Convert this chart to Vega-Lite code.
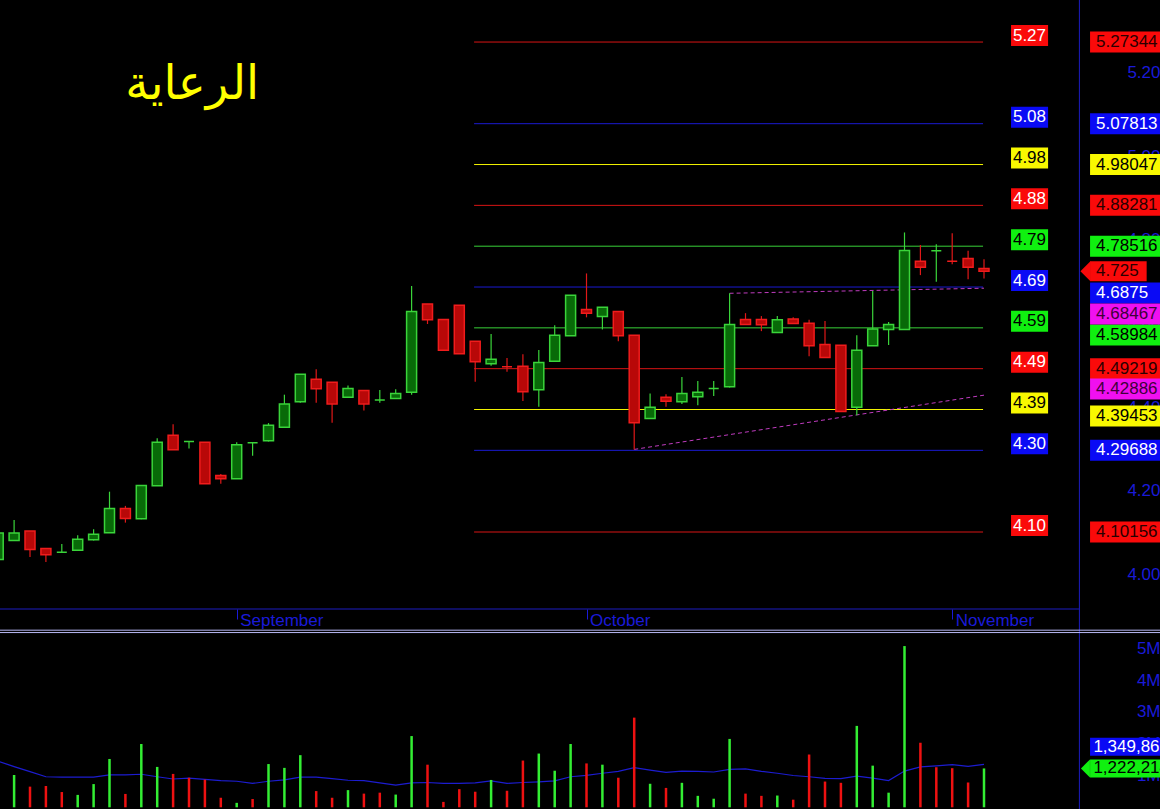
{
  "$schema": "https://vega.github.io/schema/vega-lite/v6.json",
  "width": 1160,
  "height": 809,
  "autosize": "none",
  "padding": 0,
  "background": "#000000",
  "config": {"view": {"stroke": null}, "text": {"font": "Liberation Sans"}, "scale": {"continuousPadding": 0}},
  "datasets": {
    "bars": [
      {"i": -1, "o": 4.036, "h": 4.099, "l": 4.036, "c": 4.099, "d": "up", "ma": 1450000},
      {"i": 0, "o": 4.081, "h": 4.130, "l": 4.081, "c": 4.099, "d": "up", "v": 1016000, "vd": "up", "ma": 1280000},
      {"i": 1, "o": 4.104, "h": 4.104, "l": 4.042, "c": 4.060, "d": "down", "v": 650000, "vd": "down", "ma": 1120000},
      {"i": 2, "o": 4.062, "h": 4.062, "l": 4.030, "c": 4.047, "d": "down", "v": 670000, "vd": "down", "ma": 960000},
      {"i": 3, "o": 4.053, "h": 4.073, "l": 4.053, "c": 4.053, "d": "up", "v": 480000, "vd": "down", "ma": 950000},
      {"i": 4, "o": 4.058, "h": 4.094, "l": 4.058, "c": 4.084, "d": "up", "v": 390000, "vd": "up", "ma": 950000},
      {"i": 5, "o": 4.083, "h": 4.108, "l": 4.081, "c": 4.096, "d": "up", "v": 730000, "vd": "up", "ma": 950000},
      {"i": 6, "o": 4.100, "h": 4.198, "l": 4.100, "c": 4.158, "d": "up", "v": 1520000, "vd": "up", "ma": 1020000},
      {"i": 7, "o": 4.158, "h": 4.164, "l": 4.124, "c": 4.134, "d": "down", "v": 420000, "vd": "down", "ma": 1020000},
      {"i": 8, "o": 4.133, "h": 4.213, "l": 4.132, "c": 4.213, "d": "up", "v": 1990000, "vd": "up", "ma": 1040000},
      {"i": 9, "o": 4.212, "h": 4.326, "l": 4.212, "c": 4.316, "d": "up", "v": 1270000, "vd": "up", "ma": 960000},
      {"i": 10, "o": 4.333, "h": 4.359, "l": 4.298, "c": 4.298, "d": "down", "v": 1050000, "vd": "down", "ma": 890000},
      {"i": 11, "o": 4.318, "h": 4.318, "l": 4.301, "c": 4.318, "d": "up", "v": 930000, "vd": "down", "ma": 920000},
      {"i": 12, "o": 4.316, "h": 4.316, "l": 4.217, "c": 4.217, "d": "down", "v": 870000, "vd": "down", "ma": 880000},
      {"i": 13, "o": 4.237, "h": 4.240, "l": 4.217, "c": 4.229, "d": "down", "v": 300000, "vd": "down", "ma": 840000},
      {"i": 14, "o": 4.229, "h": 4.316, "l": 4.229, "c": 4.310, "d": "up", "v": 140000, "vd": "up", "ma": 820000},
      {"i": 15, "o": 4.315, "h": 4.315, "l": 4.284, "c": 4.315, "d": "up", "v": 260000, "vd": "down", "ma": 750000},
      {"i": 16, "o": 4.320, "h": 4.362, "l": 4.318, "c": 4.357, "d": "up", "v": 1360000, "vd": "up", "ma": 820000},
      {"i": 17, "o": 4.352, "h": 4.430, "l": 4.352, "c": 4.408, "d": "up", "v": 1240000, "vd": "up", "ma": 860000},
      {"i": 18, "o": 4.413, "h": 4.479, "l": 4.411, "c": 4.479, "d": "up", "v": 1640000, "vd": "up", "ma": 950000},
      {"i": 19, "o": 4.467, "h": 4.491, "l": 4.411, "c": 4.444, "d": "down", "v": 510000, "vd": "down", "ma": 950000},
      {"i": 20, "o": 4.460, "h": 4.460, "l": 4.363, "c": 4.408, "d": "down", "v": 300000, "vd": "down", "ma": 900000},
      {"i": 21, "o": 4.424, "h": 4.452, "l": 4.424, "c": 4.445, "d": "up", "v": 540000, "vd": "up", "ma": 850000},
      {"i": 22, "o": 4.440, "h": 4.440, "l": 4.392, "c": 4.408, "d": "down", "v": 430000, "vd": "down", "ma": 840000},
      {"i": 23, "o": 4.417, "h": 4.441, "l": 4.411, "c": 4.417, "d": "up", "v": 460000, "vd": "down", "ma": 770000},
      {"i": 24, "o": 4.421, "h": 4.443, "l": 4.421, "c": 4.433, "d": "up", "v": 400000, "vd": "up", "ma": 700000},
      {"i": 25, "o": 4.436, "h": 4.690, "l": 4.430, "c": 4.629, "d": "up", "v": 2240000, "vd": "up", "ma": 770000},
      {"i": 26, "o": 4.647, "h": 4.647, "l": 4.599, "c": 4.609, "d": "down", "v": 1340000, "vd": "down", "ma": 780000},
      {"i": 27, "o": 4.610, "h": 4.610, "l": 4.536, "c": 4.536, "d": "down", "v": 170000, "vd": "down", "ma": 750000},
      {"i": 28, "o": 4.644, "h": 4.644, "l": 4.528, "c": 4.528, "d": "down", "v": 570000, "vd": "down", "ma": 750000},
      {"i": 29, "o": 4.558, "h": 4.558, "l": 4.461, "c": 4.509, "d": "down", "v": 490000, "vd": "down", "ma": 770000},
      {"i": 30, "o": 4.504, "h": 4.575, "l": 4.499, "c": 4.515, "d": "up", "v": 860000, "vd": "up", "ma": 830000},
      {"i": 31, "o": 4.497, "h": 4.518, "l": 4.485, "c": 4.497, "d": "down", "v": 520000, "vd": "down", "ma": 750000},
      {"i": 32, "o": 4.498, "h": 4.527, "l": 4.415, "c": 4.437, "d": "down", "v": 1470000, "vd": "down", "ma": 780000},
      {"i": 33, "o": 4.442, "h": 4.537, "l": 4.401, "c": 4.507, "d": "up", "v": 1690000, "vd": "up", "ma": 800000},
      {"i": 34, "o": 4.510, "h": 4.596, "l": 4.510, "c": 4.572, "d": "up", "v": 1150000, "vd": "up", "ma": 830000},
      {"i": 35, "o": 4.571, "h": 4.668, "l": 4.571, "c": 4.668, "d": "up", "v": 1990000, "vd": "up", "ma": 960000},
      {"i": 36, "o": 4.634, "h": 4.720, "l": 4.615, "c": 4.625, "d": "down", "v": 1380000, "vd": "down", "ma": 1005000},
      {"i": 37, "o": 4.617, "h": 4.639, "l": 4.586, "c": 4.639, "d": "up", "v": 1340000, "vd": "up", "ma": 1070000},
      {"i": 38, "o": 4.629, "h": 4.629, "l": 4.558, "c": 4.571, "d": "down", "v": 930000, "vd": "down", "ma": 1130000},
      {"i": 39, "o": 4.572, "h": 4.572, "l": 4.299, "c": 4.363, "d": "down", "v": 2820000, "vd": "down", "ma": 1250000},
      {"i": 40, "o": 4.373, "h": 4.433, "l": 4.373, "c": 4.400, "d": "up", "v": 740000, "vd": "up", "ma": 1170000},
      {"i": 41, "o": 4.424, "h": 4.431, "l": 4.401, "c": 4.414, "d": "down", "v": 610000, "vd": "down", "ma": 1100000},
      {"i": 42, "o": 4.413, "h": 4.472, "l": 4.408, "c": 4.433, "d": "up", "v": 770000, "vd": "up", "ma": 1140000},
      {"i": 43, "o": 4.425, "h": 4.463, "l": 4.405, "c": 4.436, "d": "up", "v": 360000, "vd": "up", "ma": 1130000},
      {"i": 44, "o": 4.445, "h": 4.463, "l": 4.427, "c": 4.445, "d": "up", "v": 270000, "vd": "up", "ma": 1110000},
      {"i": 45, "o": 4.449, "h": 4.6725, "l": 4.447, "c": 4.598, "d": "up", "v": 2150000, "vd": "up", "ma": 1190000},
      {"i": 46, "o": 4.610, "h": 4.625, "l": 4.598, "c": 4.598, "d": "down", "v": 430000, "vd": "down", "ma": 1210000},
      {"i": 47, "o": 4.610, "h": 4.618, "l": 4.582, "c": 4.597, "d": "down", "v": 360000, "vd": "down", "ma": 1130000},
      {"i": 48, "o": 4.579, "h": 4.618, "l": 4.579, "c": 4.609, "d": "up", "v": 370000, "vd": "up", "ma": 1070000},
      {"i": 49, "o": 4.611, "h": 4.615, "l": 4.600, "c": 4.600, "d": "down", "v": 240000, "vd": "down", "ma": 1000000},
      {"i": 50, "o": 4.601, "h": 4.609, "l": 4.522, "c": 4.547, "d": "down", "v": 1660000, "vd": "down", "ma": 960000},
      {"i": 51, "o": 4.550, "h": 4.606, "l": 4.519, "c": 4.519, "d": "down", "v": 810000, "vd": "down", "ma": 910000},
      {"i": 52, "o": 4.548, "h": 4.548, "l": 4.390, "c": 4.390, "d": "down", "v": 770000, "vd": "down", "ma": 900000},
      {"i": 53, "o": 4.400, "h": 4.572, "l": 4.381, "c": 4.536, "d": "up", "v": 2560000, "vd": "up", "ma": 980000},
      {"i": 54, "o": 4.547, "h": 4.678, "l": 4.547, "c": 4.587, "d": "up", "v": 1310000, "vd": "up", "ma": 920000},
      {"i": 55, "o": 4.586, "h": 4.604, "l": 4.549, "c": 4.598, "d": "up", "v": 460000, "vd": "up", "ma": 840000},
      {"i": 56, "o": 4.586, "h": 4.818, "l": 4.586, "c": 4.775, "d": "up", "v": 5070000, "vd": "up", "ma": 1140000},
      {"i": 57, "o": 4.749, "h": 4.788, "l": 4.716, "c": 4.735, "d": "down", "v": 2030000, "vd": "down", "ma": 1270000},
      {"i": 58, "o": 4.774, "h": 4.790, "l": 4.700, "c": 4.774, "d": "up", "v": 1260000, "vd": "down", "ma": 1300000},
      {"i": 59, "o": 4.749, "h": 4.816, "l": 4.742, "c": 4.749, "d": "down", "v": 1230000, "vd": "down", "ma": 1340000},
      {"i": 60, "o": 4.756, "h": 4.774, "l": 4.706, "c": 4.735, "d": "down", "v": 780000, "vd": "down", "ma": 1290000},
      {"i": 61, "o": 4.732, "h": 4.754, "l": 4.708, "c": 4.725, "d": "down", "v": 1222214, "vd": "up", "ma": 1349862}
    ],
    "levels": [
      {"v": 5.27344, "at": 5.27344, "role": "ext"},
      {"v": 5.07813, "at": 5.07813, "role": "ult"},
      {"v": 4.98047, "at": 4.98047, "role": "weak"},
      {"v": 4.88281, "at": 4.88281, "role": "pivot"},
      {"v": 4.78516, "at": 4.78516, "role": "range"},
      {"v": 4.6875, "at": 4.6732, "role": "major"},
      {"v": 4.58984, "at": 4.5727, "role": "range"},
      {"v": 4.49219, "at": 4.49219, "role": "pivot"},
      {"v": 4.39453, "at": 4.379, "role": "weak"},
      {"v": 4.29688, "at": 4.29688, "role": "ult"},
      {"v": 4.10156, "at": 4.10156, "role": "ext"}
    ],
    "trend": [
      {"t": "upper", "i": 45, "p": 4.6725},
      {"t": "upper", "i": 61, "p": 4.68467, "at": 4.623},
      {"t": "lower", "i": 39, "p": 4.2991},
      {"t": "lower", "i": 61, "p": 4.42886, "at": 4.4436}
    ]
  },
  "resolve": {"scale": {"y": "independent", "color": "independent", "fill": "independent", "stroke": "independent"}},
  "layer": [
    {
      "resolve": {"scale": {"color": "independent", "fill": "independent", "stroke": "independent"}},
      "layer": [
        {
          "data": {"name": "levels"},
          "mark": {"type": "rule", "strokeWidth": 1},
          "encoding": {
            "x": {"datum": 28.93, "type": "quantitative", "scale": {"domain": [-0.887, 72.069], "nice": false, "zero": false, "padding": 0},
              "axis": {"orient": "bottom", "offset": -200, "values": [14, 36, 59],
                "labelExpr": "datum.value < 20 ? 'September' : datum.value < 40 ? 'October' : 'November'",
                "domain": false, "grid": false, "ticks": true, "tickSize": 10, "tickColor": "#1a1ad8", "tickWidth": 1,
                "labelColor": "#1a1ad8", "labelFont": "Liberation Sans", "labelFontSize": 17, "labelAlign": "left",
                "labelBaseline": "alphabetic", "labelPadding": 6, "labelOffset": 3, "labelFlush": false, "labelOverlap": false, "title": null}},
            "x2": {"datum": 60.94},
            "y": {"field": "v", "type": "quantitative", "scale": {"domain": [3.43905, 5.37399], "nice": false, "zero": false, "padding": 0},
              "axis": {"orient": "right", "values": [4.0, 4.2, 4.4, 4.6, 4.8, 5.0, 5.2], "format": ".2f", "domain": false, "ticks": false, "tickSize": 0, "grid": false,
                "labelAlign": "right", "labelBaseline": "middle", "labelPadding": 0, "labelColor": "#1a1ad8", "labelFont": "Liberation Sans", "labelFontSize": 17, "title": null}},
            "stroke": {"field": "role", "type": "nominal", "legend": null,
              "scale": {"domain": ["ext", "ult", "weak", "pivot", "range", "major"], "range": ["#d81414", "#1a1ad2", "#f2f200", "#d81414", "#38d038", "#1a1ad2"]}}
          }
        },
        {
          "data": {"name": "trend"},
          "mark": {"type": "line", "stroke": "#c03cc0", "strokeWidth": 1, "strokeDash": [4, 3]},
          "encoding": {
            "x": {"field": "i", "type": "quantitative"},
            "y": {"field": "p", "type": "quantitative"},
            "detail": {"field": "t"}
          }
        },
        {
          "data": {"name": "bars"},
          "mark": {"type": "rule", "strokeWidth": 1.2},
          "encoding": {
            "x": {"field": "i", "type": "quantitative"},
            "y": {"field": "l", "type": "quantitative"},
            "y2": {"field": "h"},
            "stroke": {"field": "d", "type": "nominal", "legend": null, "scale": {"domain": ["up", "down"], "range": ["#3ad43a", "#e01818"]}}
          }
        },
        {
          "data": {"name": "bars"},
          "mark": {"type": "bar", "width": 10, "strokeWidth": 1.5},
          "encoding": {
            "x": {"field": "i", "type": "quantitative"},
            "y": {"field": "o", "type": "quantitative"},
            "y2": {"field": "c"},
            "fill": {"field": "d", "type": "nominal", "legend": null, "scale": {"domain": ["up", "down"], "range": ["#086a08", "#b80808"]}},
            "stroke": {"field": "d", "type": "nominal", "legend": null, "scale": {"domain": ["up", "down"], "range": ["#3ad43a", "#f01c1c"]}}
          }
        },
        {
          "data": {"values": [{"name": "الرعاية"}]},
          "mark": {"type": "text", "font": "DejaVu Sans", "fontSize": 47, "fill": "#ffff00", "align": "center", "baseline": "middle"},
          "encoding": {
            "x": {"datum": 11.2, "type": "quantitative"},
            "y": {"datum": 5.1707, "type": "quantitative"},
            "text": {"field": "name"}
          }
        },
        {
          "data": {"name": "levels"},
          "mark": {"type": "rect", "height": 21, "yOffset": -6.5},
          "encoding": {
            "x": {"datum": 62.7, "type": "quantitative"},
            "x2": {"datum": 65.03},
            "y": {"field": "v", "type": "quantitative"},
            "fill": {"field": "role", "type": "nominal", "legend": null,
              "scale": {"domain": ["ext", "ult", "weak", "pivot", "range", "major"], "range": ["#fa0a0a", "#0a0af5", "#f8f800", "#fa0a0a", "#10f010", "#0a0af5"]}}
          }
        },
        {
          "data": {"name": "levels"},
          "mark": {"type": "text", "fontSize": 17, "align": "center", "baseline": "middle", "yOffset": -6.5},
          "encoding": {
            "x": {"datum": 63.86, "type": "quantitative"},
            "y": {"field": "v", "type": "quantitative"},
            "text": {"field": "v", "type": "quantitative", "format": ".2f"},
            "color": {"field": "role", "type": "nominal", "legend": null,
              "scale": {"domain": ["ext", "ult", "weak", "pivot", "range", "major"], "range": ["#ffffff", "#ffffff", "#000000", "#ffffff", "#000000", "#ffffff"]}}
          }
        },
        {
          "data": {"values": [{}]},
          "mark": {"type": "rule", "stroke": "#1c1cc0", "strokeWidth": 1},
          "encoding": {"x": {"datum": 67, "type": "quantitative"}}
        },
        {
          "data": {"values": [{}]},
          "mark": {"type": "rule", "stroke": "#1c1cc0", "strokeWidth": 1},
          "encoding": {
            "x": {"datum": -0.887, "type": "quantitative"},
            "x2": {"datum": 67},
            "y": {"datum": 3.9174, "type": "quantitative"}
          }
        },
        {
          "data": {"name": "levels"},
          "mark": {"type": "rect", "height": 21},
          "encoding": {
            "x": {"datum": 67.67, "type": "quantitative"},
            "x2": {"datum": 72.069},
            "y": {"field": "at", "type": "quantitative"},
            "fill": {"field": "role", "type": "nominal", "legend": null,
              "scale": {"domain": ["ext", "ult", "weak", "pivot", "range", "major"], "range": ["#fa0a0a", "#0a0af5", "#f8f800", "#fa0a0a", "#10f010", "#0a0af5"]}}
          }
        },
        {
          "data": {"name": "levels"},
          "mark": {"type": "text", "fontSize": 17, "align": "left", "baseline": "middle"},
          "encoding": {
            "x": {"datum": 68.05, "type": "quantitative"},
            "y": {"field": "at", "type": "quantitative"},
            "text": {"field": "v", "type": "quantitative", "format": ".6~r"},
            "color": {"field": "role", "type": "nominal", "legend": null,
              "scale": {"domain": ["ext", "ult", "weak", "pivot", "range", "major"], "range": ["#2a0000", "#ffffff", "#000000", "#2a0000", "#000000", "#ffffff"]}}
          }
        },
        {
          "data": {"name": "trend"},
          "transform": [{"filter": "datum.i == 61"}],
          "mark": {"type": "rect", "height": 21, "fill": "#f010f0"},
          "encoding": {
            "x": {"datum": 67.67, "type": "quantitative"},
            "x2": {"datum": 72.069},
            "y": {"field": "at", "type": "quantitative"}
          }
        },
        {
          "data": {"name": "trend"},
          "transform": [{"filter": "datum.i == 61"}],
          "mark": {"type": "text", "fontSize": 17, "align": "left", "baseline": "middle", "fill": "#40003a"},
          "encoding": {
            "x": {"datum": 68.05, "type": "quantitative"},
            "y": {"field": "at", "type": "quantitative"},
            "text": {"field": "p", "type": "quantitative", "format": ".6~r"}
          }
        },
        {
          "data": {"name": "bars"},
          "transform": [{"filter": "datum.i == 61"}],
          "mark": {"type": "rect", "height": 20, "fill": "#fa0a0a"},
          "encoding": {
            "x": {"datum": 67.67, "type": "quantitative"},
            "x2": {"datum": 71.23},
            "y": {"field": "c", "type": "quantitative"}
          }
        },
        {
          "data": {"name": "bars"},
          "transform": [{"filter": "datum.i == 61"}],
          "mark": {"type": "point", "shape": "M0.5,-1L-0.5,0L0.5,1Z", "size": 400, "filled": true, "fill": "#fa0a0a", "opacity": 1, "strokeWidth": 0},
          "encoding": {
            "x": {"datum": 67.38, "type": "quantitative"},
            "y": {"field": "c", "type": "quantitative"}
          }
        },
        {
          "data": {"name": "bars"},
          "transform": [{"filter": "datum.i == 61"}],
          "mark": {"type": "text", "fontSize": 17, "align": "left", "baseline": "middle", "fill": "#2a0000"},
          "encoding": {
            "x": {"datum": 68.05, "type": "quantitative"},
            "y": {"field": "c", "type": "quantitative"},
            "text": {"field": "c", "type": "quantitative", "format": ".5~f"}
          }
        }
      ]
    },
    {
      "data": {"name": "bars"},
      "resolve": {"scale": {"color": "independent", "fill": "independent", "stroke": "independent"}},
      "layer": [
        {
          "mark": {"type": "line", "stroke": "#1c1cd0", "strokeWidth": 1.2, "clip": true},
          "encoding": {
            "x": {"field": "i", "type": "quantitative"},
            "y": {"field": "ma", "type": "quantitative", "scale": {"domain": [-53459, 25387000], "nice": false, "zero": false, "padding": 0},
              "axis": {"orient": "right", "values": [1000000, 2000000, 3000000, 4000000, 5000000], "labelExpr": "(datum.value / 1000000) + 'M'",
                "domain": false, "ticks": false, "tickSize": 0, "grid": false, "labelAlign": "right", "labelBaseline": "middle", "labelPadding": 0,
                "labelColor": "#1a1ad8", "labelFont": "Liberation Sans", "labelFontSize": 17, "title": null}}
          }
        },
        {
          "transform": [{"filter": "isValid(datum.v)"}],
          "mark": {"type": "rule", "strokeWidth": 2.5},
          "encoding": {
            "x": {"field": "i", "type": "quantitative"},
            "y": {"field": "v", "type": "quantitative"},
            "y2": {"datum": 0},
            "stroke": {"field": "vd", "type": "nominal", "legend": null, "scale": {"domain": ["up", "down"], "range": ["#33ee33", "#ee1111"]}}
          }
        },
        {
          "data": {"values": [{}]},
          "mark": {"type": "rule", "stroke": "#b8b8f4", "strokeWidth": 1},
          "encoding": {"y": {"datum": 5570000, "type": "quantitative"}}
        },
        {
          "data": {"values": [{}]},
          "mark": {"type": "rule", "stroke": "#b8b8f4", "strokeWidth": 1},
          "encoding": {"y": {"datum": 5495000, "type": "quantitative"}}
        },
        {
          "transform": [{"filter": "datum.i == 61"}],
          "mark": {"type": "rect", "height": 18, "fill": "#0a0af5", "yOffset": -17.5},
          "encoding": {
            "x": {"datum": 67.67, "type": "quantitative"},
            "x2": {"datum": 72.069},
            "y": {"field": "ma", "type": "quantitative"}
          }
        },
        {
          "transform": [{"filter": "datum.i == 61"}],
          "mark": {"type": "text", "fontSize": 17, "align": "left", "baseline": "middle", "fill": "#ffffff", "yOffset": -17.5},
          "encoding": {
            "x": {"datum": 67.88, "type": "quantitative"},
            "y": {"field": "ma", "type": "quantitative"},
            "text": {"field": "ma", "type": "quantitative", "format": ",.0f"}
          }
        },
        {
          "transform": [{"filter": "datum.i == 61"}],
          "mark": {"type": "rect", "height": 18, "fill": "#10f010"},
          "encoding": {
            "x": {"datum": 67.67, "type": "quantitative"},
            "x2": {"datum": 72.069},
            "y": {"field": "v", "type": "quantitative"}
          }
        },
        {
          "transform": [{"filter": "datum.i == 61"}],
          "mark": {"type": "point", "shape": "M0.5,-1L-0.5,0L0.5,1Z", "size": 324, "filled": true, "fill": "#10f010", "opacity": 1, "strokeWidth": 0},
          "encoding": {
            "x": {"datum": 67.38, "type": "quantitative"},
            "y": {"field": "v", "type": "quantitative"}
          }
        },
        {
          "transform": [{"filter": "datum.i == 61"}],
          "mark": {"type": "text", "fontSize": 17, "align": "left", "baseline": "middle", "fill": "#000000"},
          "encoding": {
            "x": {"datum": 67.88, "type": "quantitative"},
            "y": {"field": "v", "type": "quantitative"},
            "text": {"field": "v", "type": "quantitative", "format": ",.0f"}
          }
        }
      ]
    }
  ]
}
